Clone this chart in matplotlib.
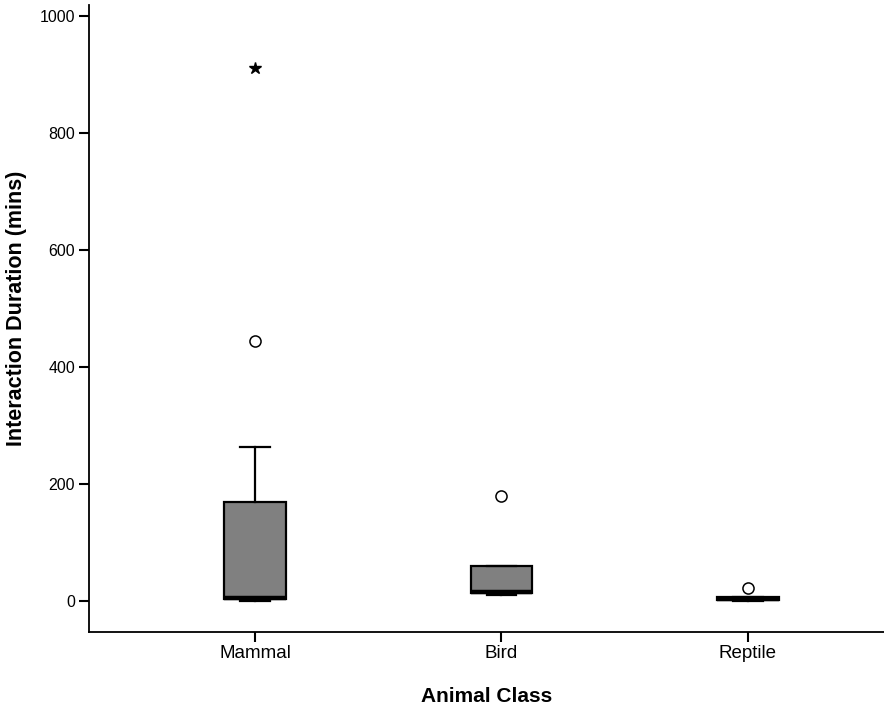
import matplotlib
matplotlib.use("Agg")
import matplotlib.pyplot as plt

# Boxplot summary values (minutes)
classes = ["Mammal", "Bird", "Reptile"]
whisker_low = [0, 10, 0]
q1 = [4, 13, 2]
medians = [5, 16, 4]
q3 = [169, 60, 6]
whisker_high = [263, 60, 6]
outliers = [[445], [179], [22]]      # drawn as open circles
extremes = [[911], [], []]           # drawn as stars

yticks = [0, 200, 400, 600, 800, 1000]

plt.rcParams["font.family"] = ["Liberation Sans", "DejaVu Sans"]

fig = plt.figure(figsize=(8.84, 7.07), dpi=100)
ax = fig.add_axes([89 / 884, 75 / 707, 795 / 884, 627 / 707])

stats = []
for i, name in enumerate(classes):
    stats.append({
        "label": name,
        "whislo": whisker_low[i],
        "q1": q1[i],
        "med": medians[i],
        "q3": q3[i],
        "whishi": whisker_high[i],
        "fliers": outliers[i],
    })

positions = list(range(1, len(classes) + 1))
ax.bxp(
    stats,
    positions=positions,
    widths=0.25,
    capwidths=0.12,
    patch_artist=True,
    boxprops=dict(facecolor="#808080", edgecolor="black", linewidth=1.6),
    medianprops=dict(color="black", linewidth=3.2),
    whiskerprops=dict(color="black", linewidth=1.6),
    capprops=dict(color="black", linewidth=1.6),
    flierprops=dict(marker="o", markersize=8, markerfacecolor="white",
                    markeredgecolor="black", markeredgewidth=1.1),
)

for i, vals in enumerate(extremes):
    if vals:
        ax.plot([positions[i]] * len(vals), vals, linestyle="none", marker="*",
                markersize=9, color="black")

ax.set_xlim(0.3266, 3.552)
ax.set_ylim(-53, 1019)
ax.set_yticks(yticks)
ax.set_xticks(positions)
ax.set_xticklabels(classes)

for side in ["top", "right"]:
    ax.spines[side].set_visible(False)
ax.spines["left"].set_linewidth(1.3)
ax.spines["bottom"].set_linewidth(1.3)
ax.tick_params(axis="both", direction="out", length=7, width=1.5)
ax.tick_params(axis="x", labelsize=13.5, pad=2)
ax.tick_params(axis="y", labelsize=11.5, pad=3)

ax.set_xlabel("Animal Class", fontsize=15, fontweight="bold", labelpad=18)
ax.set_ylabel("Interaction Duration (mins)", fontsize=15.5, fontweight="bold")
ax.yaxis.set_label_coords(-0.078, 0.517)

fig.savefig("out.png", dpi=100)
